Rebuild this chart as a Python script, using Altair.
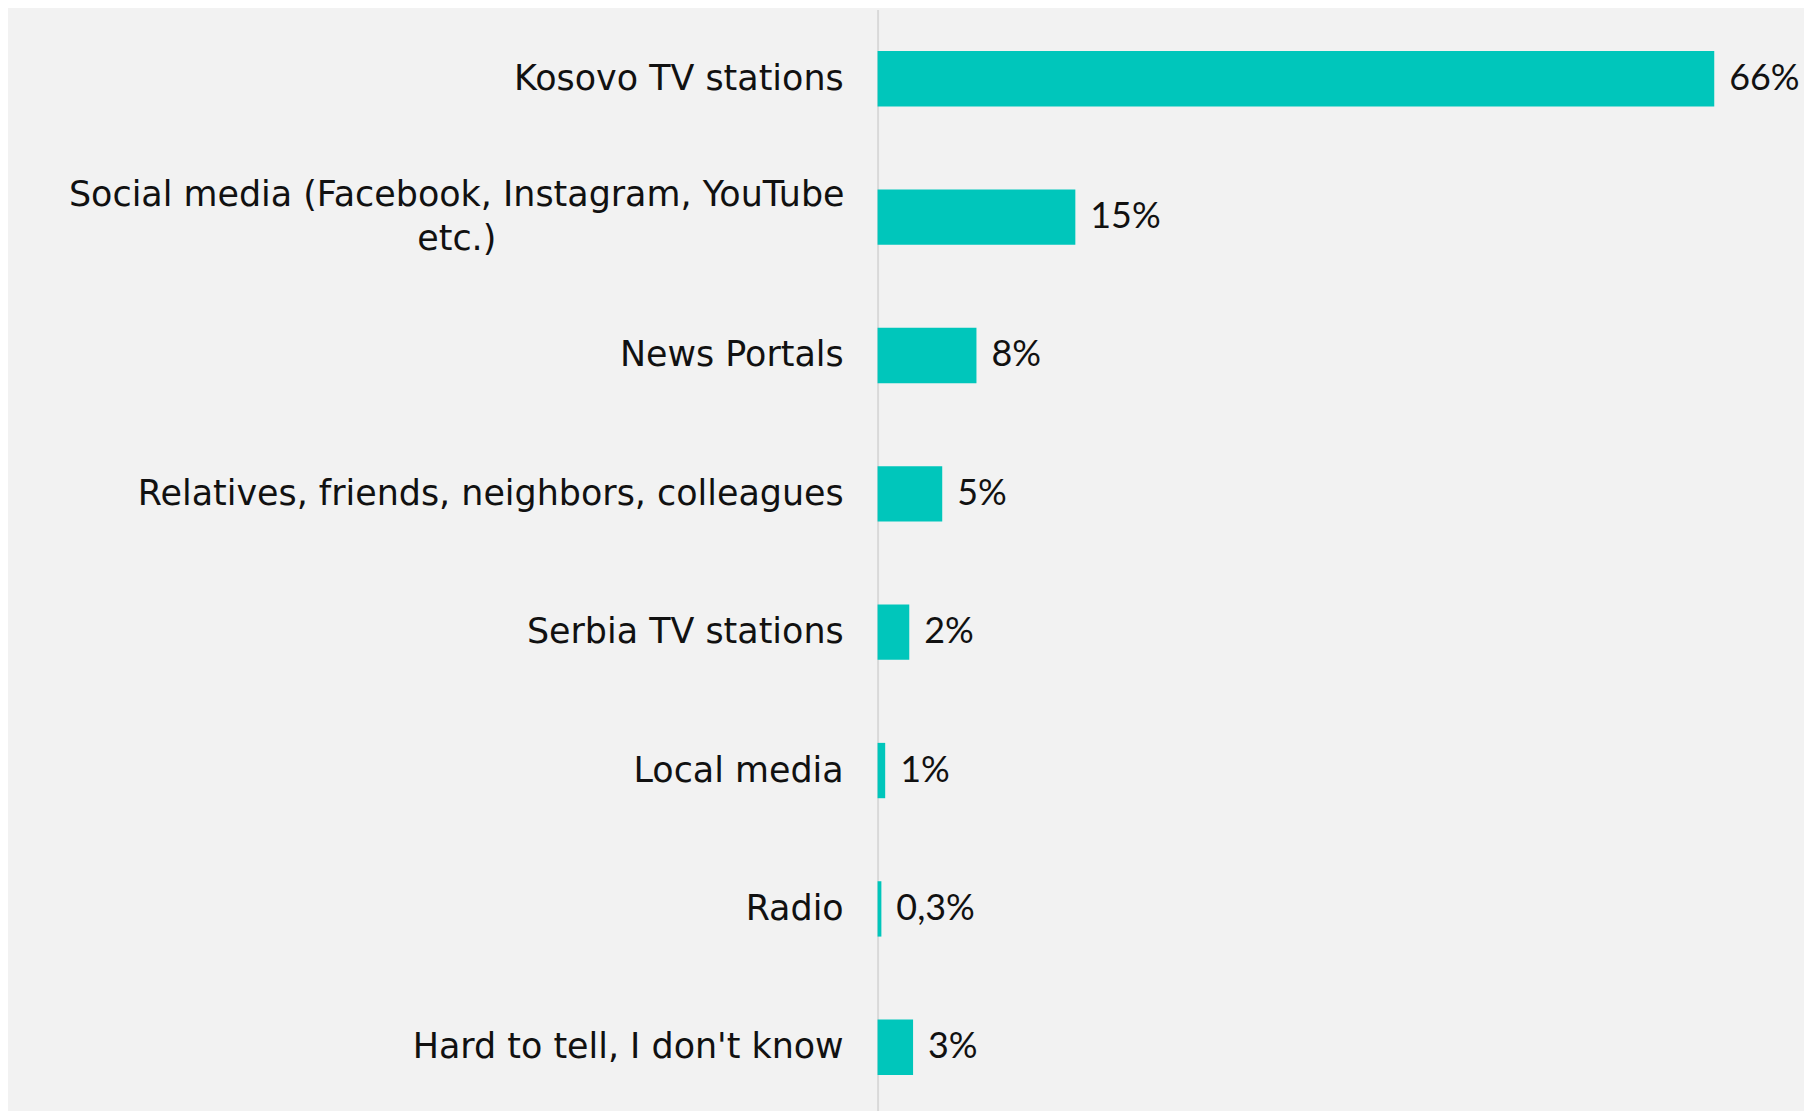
import altair as alt
import pandas as pd

categories = [
    "Kosovo TV stations",
    "Social media (Facebook, Instagram, YouTube etc.)",
    "News Portals",
    "Relatives, friends, neighbors, colleagues",
    "Serbia TV stations",
    "Local media",
    "Radio",
    "Hard to tell, I don't know",
]
display_labels = [
    "Kosovo TV stations",
    "Social media (Facebook, Instagram, YouTube\netc.)",
    "News Portals",
    "Relatives, friends, neighbors, colleagues",
    "Serbia TV stations",
    "Local media",
    "Radio",
    "Hard to tell, I don't know",
]
values = [66, 15.6, 7.8, 5.1, 2.5, 0.6, 0.3, 2.8]
value_labels = ["66%", "15%", "8%", "5%", "2%", "1%", "0,3%", "3%"]

df = pd.DataFrame({
    "category": categories,
    "display": display_labels,
    "value": values,
    "label": value_labels,
    "multi": [d.count("\n") > 0 for d in display_labels],
})

CAT_FONT = "DejaVu Sans"
VAL_FONT = "Lato"
BAR = "#00C6BB"

y_enc = alt.Y(
    "category:N",
    sort=categories,
    scale=alt.Scale(paddingInner=0.6, paddingOuter=0.3),
    axis=alt.Axis(labels=False, ticks=False, title=None, grid=False,
                  domainColor="#d9d9d9", domainWidth=2),
)
x_enc = alt.X("value:Q", scale=alt.Scale(domain=[0, 66], nice=False, zero=True), axis=None)

base = alt.Chart(df).encode(y=y_enc)

bars = base.mark_bar(color=BAR).encode(x=x_enc)

vals = base.mark_text(align="left", baseline="middle", dx=15, font=VAL_FONT,
                      fontSize=36, color="#111111").encode(x=x_enc, text="label:N")

cat_single = base.transform_filter("!datum.multi").mark_text(
    align="right", baseline="middle", font=CAT_FONT, fontSize=35, color="#111111",
    lineBreak="\n").encode(x=alt.value(-34), text="display:N")

cat_multi = base.transform_filter("datum.multi").mark_text(
    align="center", baseline="middle", font=CAT_FONT, fontSize=35, color="#111111",
    lineBreak="\n", lineHeight=44, dy=-22).encode(x=alt.value(-422), text="display:N")

chart = alt.layer(bars, vals, cat_single, cat_multi).properties(
    width=839,
    height=1110,
    padding={"left": 872, "top": 0, "right": 90, "bottom": 0},
    autosize=alt.AutoSizeParams(type="none"),
).configure(background="#f2f2f2").configure_view(stroke=None)

chart.save("out.html", embed_options={"renderer": "svg", "actions": False})
